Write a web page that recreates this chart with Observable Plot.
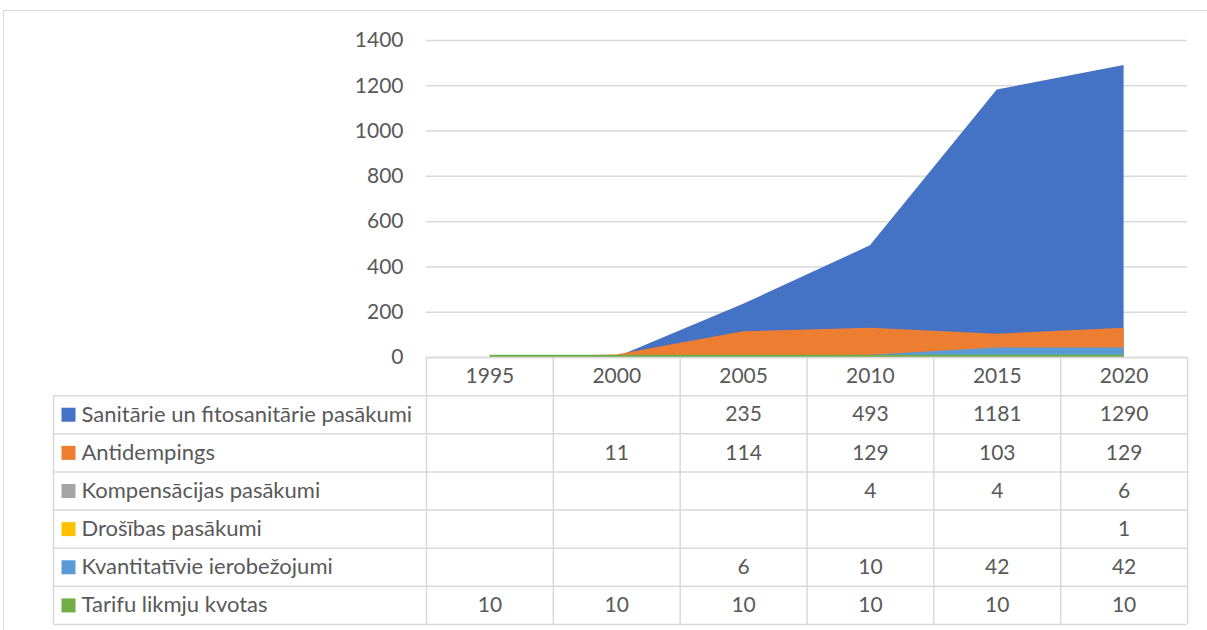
<!DOCTYPE html>
<html><head><meta charset="utf-8">
<script src="https://cdn.jsdelivr.net/npm/d3@7"></script>
<script src="https://cdn.jsdelivr.net/npm/@observablehq/plot@0.6"></script>
<style>
body{margin:0;background:#fff;}
#wrap{position:relative;width:1207px;height:630px;overflow:hidden;font-family:Lato, sans-serif;}
#border{position:absolute;left:3px;top:10px;width:1300px;height:700px;border-top:1.5px solid #d9d9d9;border-left:1.5px solid #d9d9d9;}
#chart,#table{position:absolute;left:0;}
#chart{top:0;} #table{top:350px;}
</style></head><body>
<div id="wrap"><div id="border"></div><div id="chart"></div><div id="table"></div></div>
<script>
const years = ["1995", "2000", "2005", "2010", "2015", "2020"];
const seriesNames = [
  "Sanitārie un fitosanitārie pasākumi",
  "Antidempings",
  "Kompensācijas pasākumi",
  "Drošības pasākumi",
  "Kvantitatīvie ierobežojumi",
  "Tarifu likmju kvotas"
];
const sanitarie = [null, null, 235, 493, 1181, 1290];
const antidempings = [null, 11, 114, 129, 103, 129];
const kompensacijas = [null, null, null, 4, 4, 6];
const drosibas = [null, null, null, null, null, 1];
const kvantitativie = [null, null, 6, 10, 42, 42];
const tarifu = [10, 10, 10, 10, 10, 10];
const yTicks = [0, 200, 400, 600, 800, 1000, 1200, 1400];
const colors = ["#4472C4", "#ED7D31", "#A5A5A5", "#FFC000", "#5B9BD5", "#70AD47"];

const seriesValues = [sanitarie, antidempings, kompensacijas, drosibas, kvantitativie, tarifu];
const txt = "#595959";
const line = "#d9d9d9";
const numSize = 21, labelSize = 22;

// ---- area chart ----
const areas = seriesValues.map((vals, s) =>
  Plot.areaY(years, {x: (d, i) => i, y: (d, i) => vals[i] ?? 0, fill: colors[s], fillOpacity: 1})
);
const chart = Plot.plot({
  width: 1207, height: 358,
  marginLeft: 426, marginRight: 20, marginTop: 40, marginBottom: 1,
  x: {domain: [-0.5, years.length - 0.5], axis: null},
  y: {domain: [0, 1400], axis: null},
  style: {fontFamily: "Lato, sans-serif", fontSize: numSize + "px", color: txt, background: "transparent", overflow: "visible"},
  marks: [
    Plot.gridY(yTicks, {stroke: line, strokeOpacity: 1, strokeWidth: 1.5}),
    ...areas,
    Plot.axisY(yTicks, {tickSize: 0, tickPadding: 23, fontSize: numSize, fill: txt, tickFormat: d => String(d)})
  ]
});
document.getElementById("chart").append(chart);

// ---- data table ----
const colW = (1187 - 426) / years.length;
const xLeft = -0.5 - (426 - 53) / colW;
const nRows = seriesNames.length + 1;
const bounds = d3.range(years.length + 1).map(i => i - 0.5);
const cells = [];
seriesValues.forEach((vals, s) => vals.forEach((v, i) => { if (v != null) cells.push({s, i, v}); }));

const table = Plot.plot({
  width: 1207, height: 280,
  marginLeft: 53, marginRight: 20, marginTop: 7, marginBottom: 6,
  x: {type: "linear", domain: [xLeft, years.length - 0.5], range: [53, 1187], axis: null},
  y: {type: "linear", domain: [0, nRows], range: [7, 274], axis: null},
  style: {fontFamily: "Lato, sans-serif", fontSize: numSize + "px", color: txt, background: "transparent", overflow: "visible"},
  marks: [
    Plot.ruleY([0], {x1: -0.5, x2: years.length - 0.5, stroke: line, strokeWidth: 1.5}),
    Plot.ruleY(d3.range(1, nRows + 1), {x1: xLeft, x2: years.length - 0.5, stroke: line, strokeWidth: 1.5}),
    Plot.ruleX(bounds, {y1: 0, y2: nRows, stroke: line, strokeWidth: 1.5}),
    Plot.ruleX([xLeft], {y1: 1, y2: nRows, stroke: line, strokeWidth: 1.5}),
    Plot.text(years, {x: (d, i) => i, y: 0.5, text: d => d, fill: txt, fontSize: numSize}),
    Plot.text(cells, {x: "i", y: d => d.s + 1.5, text: d => String(d.v), fill: txt, fontSize: numSize}),
    Plot.dot(seriesNames, {x: xLeft, y: (d, i) => i + 1.5, dx: 15, symbol: "square", r: 14 / Math.sqrt(Math.PI), fill: (d, i) => colors[i]}),
    Plot.text(seriesNames, {x: xLeft, y: (d, i) => i + 1.5, dx: 28, text: d => d, textAnchor: "start", fill: txt, fontSize: labelSize})
  ]
});
document.getElementById("table").append(table);
</script>
</body></html>
